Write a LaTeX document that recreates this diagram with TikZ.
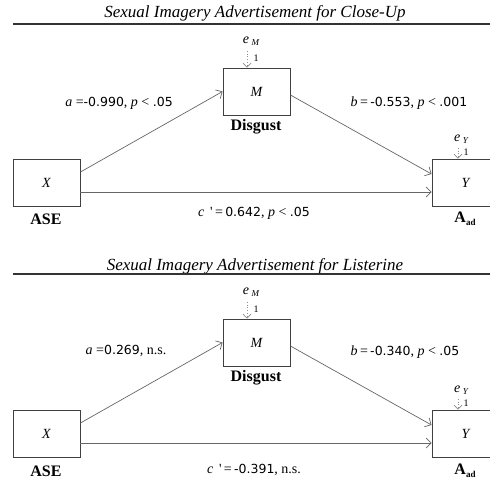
\documentclass[tikz,border=0pt]{standalone}
\usepackage{fontspec}
\setmainfont{Liberation Serif}
\newfontfamily\numfont{DejaVu Sans}
\usetikzlibrary{arrows.meta}
\newcommand{\nm}[1]{{\numfont\fontsize{12.5}{12.5}\selectfont #1}}
\newcommand{\iv}[1]{{\itshape #1}}
\begin{document}
\begin{tikzpicture}[x=1pt,y=-1pt,
  box/.style={draw=black!75,line width=0.9pt,minimum width=67pt,minimum height=47pt,inner sep=0pt,font=\fontsize{14}{14}\selectfont\itshape},
  lbl/.style={font=\fontsize{16}{16}\selectfont\bfseries,inner sep=0pt},
  pth/.style={draw=black!60,line width=0.7pt,-{Straight Barb[length=5pt,width=10pt]}},
  err/.style={draw=black!45,dotted,line width=0.7pt,-{Straight Barb[length=4pt,width=8pt]}},
  coef/.style={font=\fontsize{14}{14}\selectfont,inner sep=0pt},
  ttl/.style={font=\fontsize{17}{17}\selectfont\itshape,inner sep=0pt},
  enode/.style={font=\fontsize{14}{14}\selectfont\itshape,inner sep=0pt},
  one/.style={font=\fontsize{10}{10}\selectfont,inner sep=0pt},
  rule/.style={draw=black!80,line width=1.1pt}]
\useasboundingbox (0,0) rectangle (490,483);
% ---------- top panel ----------
\node[ttl] (t1) at (255,13) {Sexual Imagery Advertisement for Close-Up};
\coordinate (r1a) at (13,24);
\coordinate (r1b) at (490,24);
\draw[rule] (r1a) -- (r1b);
\node[box] (M1) at (256.5,91.5) {M};
\node[box] (X1) at (46.5,182.5) {X};
\node[box] (Y1) at (465.5,182.5) {Y};
\node[lbl] (d1) at (256,127) {Disgust};
\node[lbl] (s1) at (46,219) {ASE};
\node[lbl] (a1d) at (465,219) {A\raisebox{-3pt}{\fontsize{9}{9}\selectfont ad}};
\node[enode] (eM1) at (251,41) {e\,\raisebox{-2pt}{\fontsize{9}{9}\selectfont M}};
\coordinate (eM1s) at (247,51);
\draw[err] (eM1s) -- (eM1s |- M1.north);
\node[one] (o1) at (256,58) {1};
\node[enode] (eY1) at (461,139) {e\,\raisebox{-2pt}{\fontsize{9}{9}\selectfont Y}};
\coordinate (eY1s) at (458,148);
\draw[err] (eY1s) -- (eY1s |- Y1.north);
\node[one] (o2) at (466,152.5) {1};
\draw[pth] ([yshift=10.5pt]X1.east) -- (M1.west);
\draw[pth] ([yshift=-3.5pt]M1.east) -- ([yshift=8.5pt]Y1.west);
\draw[pth] ([yshift=-9.5pt]X1.east) -- ([yshift=-9.5pt]Y1.west);
\node[coef] (ca1) at (119,103) {\iv{a} =\nm{-0.990}, \iv{p} < \nm{.05}};
\node[coef] (cb1) at (409,103) {\iv{b}\,=\,\nm{-0.553}, \iv{p} < \nm{.001}};
\node[coef] (cc1) at (254,213) {\iv{c} \,\textquotesingle\,=\,\nm{0.642}, \iv{p} < \nm{.05}};
% ---------- bottom panel ----------
\node[ttl] (t2) at (255,266) {Sexual Imagery Advertisement for Listerine};
\coordinate (r2a) at (13,274);
\coordinate (r2b) at (490,274);
\draw[rule] (r2a) -- (r2b);
\node[box] (M2) at (256.5,342.5) {M};
\node[box] (X2) at (46.5,433.5) {X};
\node[box] (Y2) at (465.5,433.5) {Y};
\node[lbl] (d2) at (256,378) {Disgust};
\node[lbl] (s2) at (46,471) {ASE};
\node[lbl] (a2d) at (465,471) {A\raisebox{-3pt}{\fontsize{9}{9}\selectfont ad}};
\node[enode] (eM2) at (251,292) {e\,\raisebox{-2pt}{\fontsize{9}{9}\selectfont M}};
\coordinate (eM2s) at (247,302);
\draw[err] (eM2s) -- (eM2s |- M2.north);
\node[one] (o3) at (256,309) {1};
\node[enode] (eY2) at (461,390) {e\,\raisebox{-2pt}{\fontsize{9}{9}\selectfont Y}};
\coordinate (eY2s) at (458,399);
\draw[err] (eY2s) -- (eY2s |- Y2.north);
\node[one] (o4) at (466,403.5) {1};
\draw[pth] ([yshift=10.5pt]X2.east) -- (M2.west);
\draw[pth] ([yshift=-3.5pt]M2.east) -- ([yshift=8.5pt]Y2.west);
\draw[pth] ([yshift=-9.5pt]X2.east) -- ([yshift=-9.5pt]Y2.west);
\node[coef] (ca2) at (126,351) {\iv{a} =\nm{0.269}, n.s.};
\node[coef] (cb2) at (405,352) {\iv{b}\,=\,\nm{-0.340}, \iv{p} < \nm{.05}};
\node[coef] (cc2) at (254,470) {\iv{c} \,\textquotesingle\,=\,\nm{-0.391}, n.s.};
\end{tikzpicture}
\end{document}
